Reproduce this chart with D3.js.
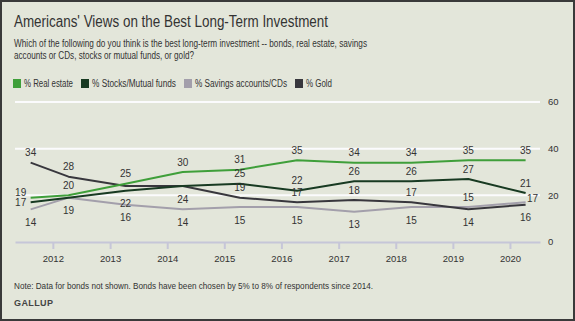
<!DOCTYPE html>
<html>
<head>
<meta charset="utf-8">
<script src="https://cdn.jsdelivr.net/npm/d3@7"></script>
<style>
  html, body { margin: 0; padding: 0; background: #fff; }
  svg { display: block; font-family: "Liberation Sans", Arial, sans-serif; }
</style>
</head>
<body>
<div id="chart"></div>
<script>
// survey dates: Aug 2011, then each April
var dates = ["2011-08-12", "2012-04-10", "2013-04-10", "2014-04-10", "2015-04-10",
             "2016-04-10", "2017-04-10", "2018-04-10", "2019-04-10", "2020-04-10"];
var realEstate = [19, 20, 25, 30, 31, 35, 34, 34, 35, 35];
var stocks     = [17, 19, 22, 24, 25, 22, 26, 26, 27, 21];
var savings    = [14, 19, 16, 14, 15, 15, 13, 15, 15, 17];
var gold       = [34, 28, 24, 24, 19, 17, 18, 17, 14, 16];
var seriesNames = ["% Real estate", "% Stocks/Mutual funds", "% Savings accounts/CDs", "% Gold"];
var yTicks = [0, 20, 40, 60];
var xTicks = [2012, 2013, 2014, 2015, 2016, 2017, 2018, 2019, 2020];

// where each value label sits: a = above, b = below, l/lu = left, r = right, "" = none
var labelSide = [
  ["lu", "a", "a", "a", "a", "a", "a", "a", "a", "a"],
  ["l", "", "b", "", "a", "a", "a", "a", "a", "a"],
  ["b", "b", "b", "b", "b", "b", "b", "b", "a", "r"],
  ["a", "a", "", "b", "a", "a", "a", "a", "b", "b"]
];

var colors = ["#3f9f3a", "#183a22", "#a39fab", "#38373d"];
var parse = d3.timeParse("%Y-%m-%d");

var width = 575, height = 321;

var svg = d3.select("#chart").append("svg")
  .attr("width", width)
  .attr("height", height);

// frame + background
svg.append("rect")
  .attr("x", 0).attr("y", 0)
  .attr("width", width).attr("height", height)
  .attr("fill", "#3a3a3a");
svg.append("rect")
  .attr("x", 2).attr("y", 2)
  .attr("width", width - 4).attr("height", height - 4)
  .attr("fill", "#e3e6da");

svg.append("text")
  .attr("x", 14).attr("y", 27)
  .attr("font-size", 16)
  .attr("fill", "#333")
  .attr("textLength", 314)
  .attr("lengthAdjust", "spacingAndGlyphs")
  .text("Americans' Views on the Best Long-Term Investment");

var sub = svg.append("text")
  .attr("font-size", 10)
  .attr("fill", "#333");
sub.append("tspan").attr("x", 14).attr("y", 47)
  .attr("textLength", 353)
  .attr("lengthAdjust", "spacingAndGlyphs")
  .text("Which of the following do you think is the best long-term investment -- bonds, real estate, savings");
sub.append("tspan").attr("x", 14).attr("y", 59)
  .attr("textLength", 180)
  .attr("lengthAdjust", "spacingAndGlyphs")
  .text("accounts or CDs, stocks or mutual funds, or gold?");

// legend
var legendX = [13, 81, 184, 295];
var legendW = [49, 84, 92, 26];
var legend = svg.selectAll("g.legend")
  .data(seriesNames)
  .enter().append("g")
  .attr("class", "legend")
  .attr("transform", function(d, i) { return "translate(" + legendX[i] + ",79)"; });
legend.append("rect")
  .attr("width", 8).attr("height", 9)
  .attr("fill", function(d, i) { return colors[i]; });
legend.append("text")
  .attr("x", 11).attr("y", 8)
  .attr("font-size", 10)
  .attr("fill", "#333")
  .attr("textLength", function(d, i) { return legendW[i]; })
  .attr("lengthAdjust", "spacingAndGlyphs")
  .text(function(d) { return d; });

var x = d3.scaleTime()
  .domain([parse("2011-05-04"), parse("2020-07-11")])
  .range([15, 540]);
var y = d3.scaleLinear()
  .domain([0, 60])
  .range([242, 102]);

// gridlines
svg.selectAll("line.grid")
  .data(yTicks.filter(function(d) { return d > 0; }))
  .enter().append("line")
  .attr("class", "grid")
  .attr("x1", 15).attr("x2", 540)
  .attr("y1", function(d) { return y(d); })
  .attr("y2", function(d) { return y(d); })
  .attr("stroke", "#fbfbfd")
  .attr("stroke-width", 2);

// y labels on the right
svg.selectAll("text.ylab")
  .data(yTicks)
  .enter().append("text")
  .attr("class", "ylab")
  .attr("x", 548)
  .attr("y", function(d) { return y(d); })
  .attr("dy", "0.35em")
  .attr("font-size", 9.5)
  .attr("fill", "#333")
  .text(function(d) { return d; });

// bottom axis
var xAxis = d3.axisBottom(x)
  .tickValues(xTicks.map(function(yr) { return new Date(yr, 0, 1); }))
  .tickFormat(d3.timeFormat("%Y"))
  .tickSize(7)
  .tickSizeOuter(0);
var gx = svg.append("g")
  .attr("transform", "translate(0,242)")
  .call(xAxis);
gx.select(".domain").attr("stroke", "#c6c6d8").attr("stroke-width", 2);
gx.selectAll(".tick line").attr("stroke", "#c6c6d8").attr("stroke-width", 2).attr("y1", 0);
gx.selectAll(".tick text")
  .attr("y", 13)
  .attr("font-size", 9.5)
  .attr("font-family", "Liberation Sans, Arial, sans-serif")
  .attr("fill", "#333");

// lines
var all = [realEstate, stocks, savings, gold];
var series = all.map(function(vals, k) {
  return vals.map(function(v, i) { return { date: parse(dates[i]), value: v, side: labelSide[k][i] }; });
});

var line = d3.line()
  .x(function(d) { return x(d.date); })
  .y(function(d) { return y(d.value); });

// draw order: savings, gold, stocks, real estate on top
[2, 3, 1, 0].forEach(function(k) {
  svg.append("path")
    .datum(series[k])
    .attr("fill", "none")
    .attr("stroke", colors[k])
    .attr("stroke-width", 2)
    .attr("stroke-linejoin", "round")
    .attr("d", line);
});

// value labels
series.forEach(function(s) {
  svg.selectAll(null)
    .data(s.filter(function(d) { return d.side !== ""; }))
    .enter().append("text")
    .attr("x", function(d) {
      var px = x(d.date);
      if (d.side === "l" || d.side === "lu") return px - 10;
      if (d.side === "r") return px + 7;
      return px;
    })
    .attr("y", function(d) {
      var py = y(d.value);
      if (d.side === "a") return py - 10;
      if (d.side === "b") return py + 13;
      if (d.side === "r") return py - 4;
      if (d.side === "lu") return py - 5;
      return py;
    })
    .attr("dy", "0.35em")
    .attr("text-anchor", "middle")
    .attr("font-size", 10)
    .attr("fill", "#333")
    .text(function(d) { return d.value; });
});

svg.append("text")
  .attr("x", 14).attr("y", 289)
  .attr("font-size", 9.5)
  .attr("fill", "#333")
  .attr("textLength", 359)
  .attr("lengthAdjust", "spacingAndGlyphs")
  .text("Note: Data for bonds not shown. Bonds have been chosen by 5% to 8% of respondents since 2014.");

svg.append("text")
  .attr("x", 14).attr("y", 306)
  .attr("font-size", 9)
  .attr("font-weight", "bold")
  .attr("letter-spacing", 0.4)
  .attr("fill", "#444")
  .text("GALLUP");
</script>
</body>
</html>
